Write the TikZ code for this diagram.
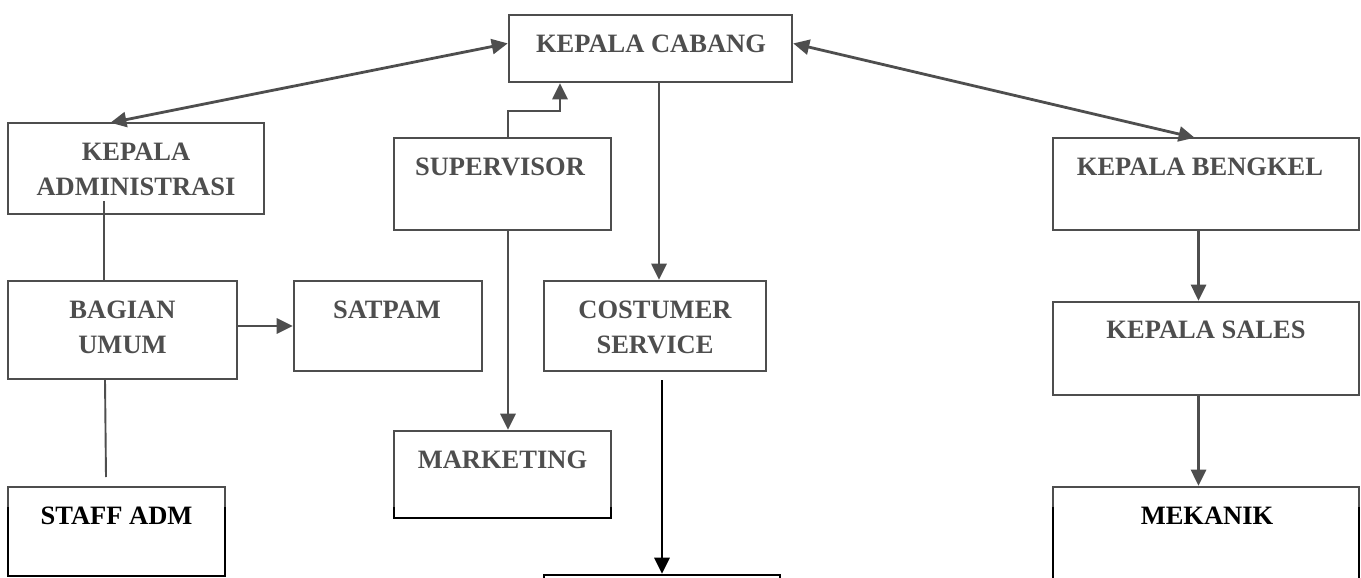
\documentclass[tikz,border=0pt]{standalone}
\usepackage{fontspec}
\setmainfont{Liberation Serif}
\usetikzlibrary{calc,arrows.meta}
\definecolor{ink}{RGB}{78,78,78}
\begin{document}
\begin{tikzpicture}[x=1pt,y=-1pt,
  box/.style={draw=ink, line width=2.7pt, rectangle, inner sep=0pt, outer sep=0pt},
  lbl/.style={anchor=north, inner sep=0pt, align=center, text=ink,
    font=\fontsize{26.5}{35}\selectfont\bfseries},
  arr/.style={draw=ink, line width=2.8pt, -{Triangle[length=16pt,width=15pt]}, shorten >=1.3pt},
  darr/.style={draw=ink, line width=2.8pt, {Triangle[length=16pt,width=15pt]}-{Triangle[length=16pt,width=15pt]}, shorten >=1.3pt, shorten <=1.3pt},
  plain/.style={draw=ink, line width=1.9pt}]
\clip (0,0) rectangle (1361,578);
\fill[white] (0,0) rectangle (1361,578);
% boxes
\node[box, minimum width=283pt, minimum height=67pt] (kc) at (650.5,48.5) {};
\node[box, minimum width=256pt, minimum height=91pt] (ka) at (136,168.5) {};
\node[box, minimum width=217pt, minimum height=92pt] (sv) at (502.5,184) {};
\node[box, minimum width=306pt, minimum height=92pt] (kb) at (1206,184) {};
\node[box, minimum width=229pt, minimum height=98pt] (bu) at (122.5,330) {};
\node[box, minimum width=188pt, minimum height=90pt] (sp) at (388,326) {};
\node[box, minimum width=222pt, minimum height=90pt] (cs) at (655,326) {};
\node[box, minimum width=306pt, minimum height=93pt] (ks) at (1206,348.5) {};
\node[box, minimum width=217pt, minimum height=87pt] (mk) at (502.5,474.5) {};
\node[box, minimum width=217pt, minimum height=89pt] (sa) at (116.5,531.5) {};
\node[box, minimum width=306pt, minimum height=133pt] (me) at (1206,553.5) {};
\node[box, draw=black, minimum width=236pt, minimum height=65pt] (bx) at (662,607.5) {};
% texts
\node[lbl] (kct) at ($(kc.north)+(0.5,19.5)$) {KEPALA CABANG};
\node[lbl] (kat) at ($(ka.north)+(0,20)$) {KEPALA\\ADMINISTRASI};
\node[lbl] (svt) at ($(sv.north)+(-2.5,19.5)$) {SUPERVISOR};
\node[lbl] (kbt) at ($(kb.north)+(-6,19.5)$) {KEPALA BENGKEL};
\node[lbl] (but) at ($(bu.north)+(0,19.5)$) {BAGIAN\\UMUM};
\node[lbl] (spt) at ($(sp.north)+(-1,19.5)$) {SATPAM};
\node[lbl] (cst) at ($(cs.north)+(0,19.5)$) {COSTUMER\\SERVICE};
\node[lbl] (kst) at ($(ks.north)+(0,18.5)$) {KEPALA SALES};
\node[lbl] (mkt) at ($(mk.north)+(0,19.5)$) {MARKETING};
\node[lbl, text=black] (sat) at ($(sa.north)+(0,19.5)$) {STAFF ADM};
\node[lbl, text=black] (met) at ($(me.north)+(1,19.5)$) {MEKANIK};
% connectors
\draw[darr] ($(kc.north west)!0.42!(kc.south west)$) -- ($(ka.north west)!0.395!(ka.north east)$);
\draw[darr] ($(kc.north east)!0.42!(kc.south east)$) -- ($(kb.north west)!0.467!(kb.north east)$);
\draw[arr] ($(sv.north)+(5.5,0)$) -- ++(0,-27) -| ($(kc.south)+(-90.5,0)$);
\draw[arr] ($(kc.south)+(8.5,0)$) -- ($(cs.north)+(4,0)$);
\draw[plain] ($(ka.south)+(-32,-13)$) -- ($(bu.north)+(-18.5,0)$);
\draw[arr] (bu.east |- sp.west) -- (sp.west);
\draw[plain] ($(bu.south)+(-17.5,0)$) -- ($(sa.north)+(-10.5,-10)$);
\draw[arr] ($(sv.south)+(5.5,0)$) -- ($(mk.north)+(5.5,0)$);
\draw[arr] ($(kb.south)+(-7.5,0)$) -- ($(ks.north)+(-7.5,0)$);
\draw[arr] ($(ks.south)+(-7.5,0)$) -- ($(me.north)+(-7.5,0)$);
\draw[arr, draw=black] ($(cs.south)+(7,9)$) -- (bx.north);
% darker lower band
\begin{scope}
\clip (0,507) rectangle (1361,578);
\draw[black, line width=2.7pt] (sa.north west) rectangle (sa.south east);
\draw[black, line width=2.7pt] (me.north west) rectangle (me.south east);
\draw[black, line width=2.7pt] (mk.north west) rectangle (mk.south east);
\end{scope}
\end{tikzpicture}
\end{document}
